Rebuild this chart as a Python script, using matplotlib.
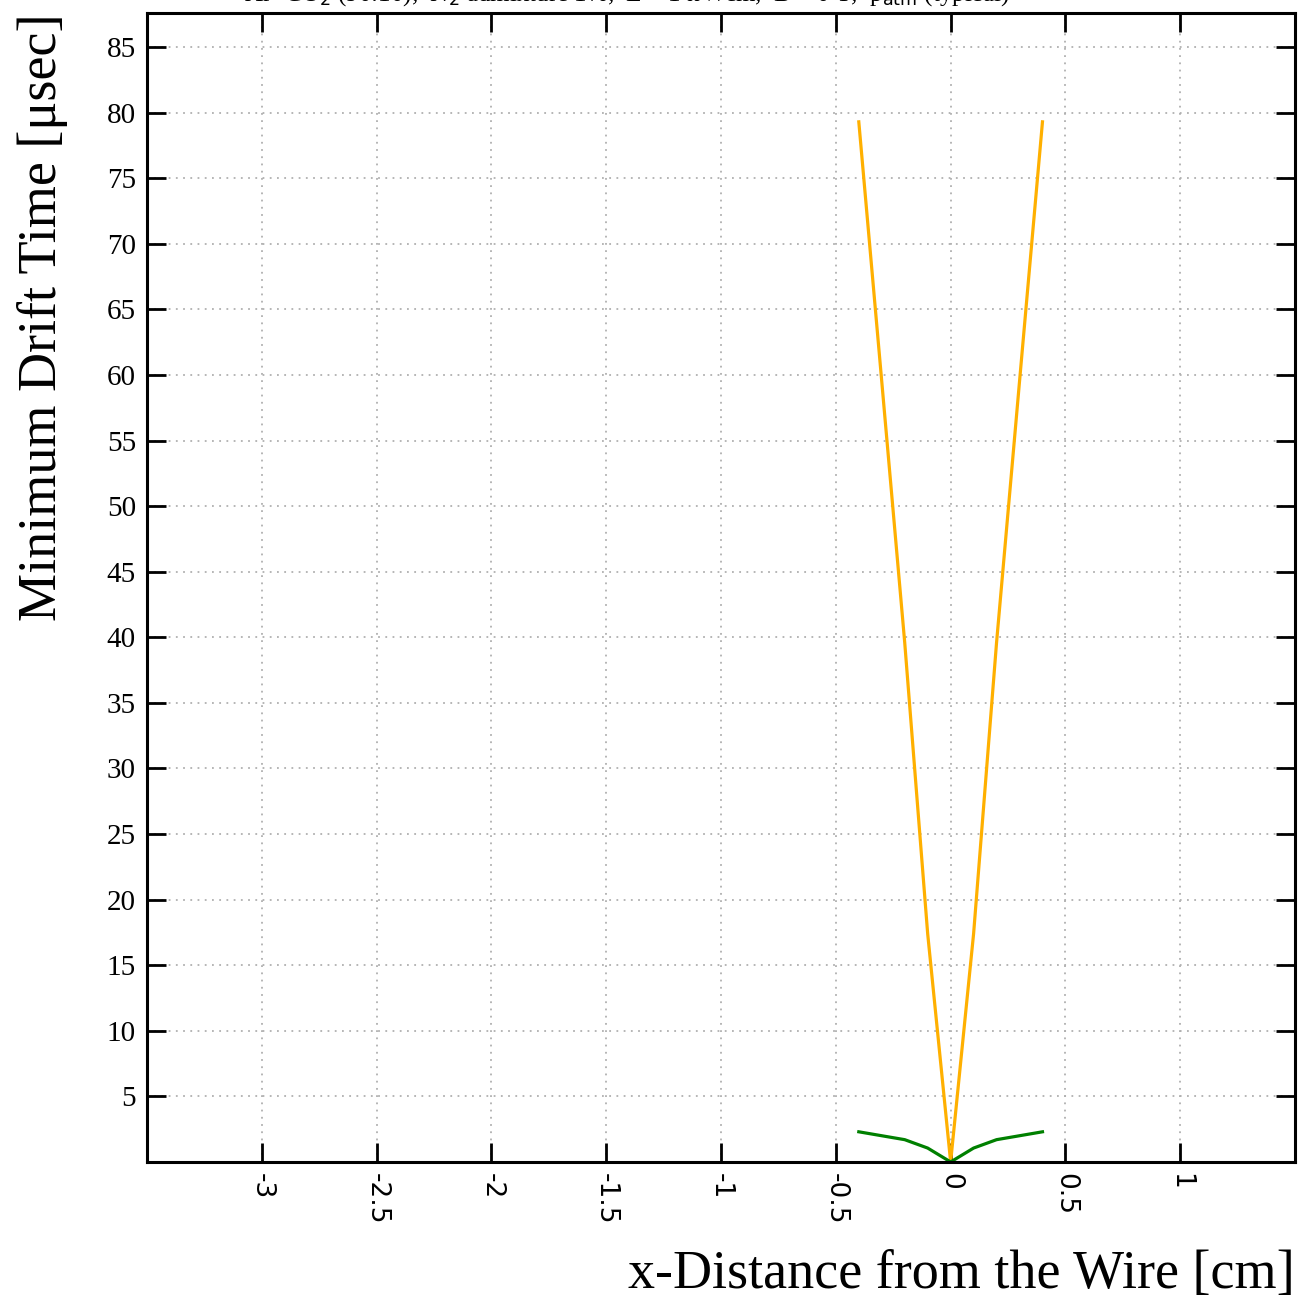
import matplotlib.pyplot as plt
import numpy as np

plt.rcParams['axes.unicode_minus'] = False

# x positions (cm) and minimum drift times (usec)
x_cm = [-0.4, -0.3, -0.2, -0.1, 0.0, 0.1, 0.2, 0.3, 0.4]
t_orange = [79.3, 59.5, 39.6, 17.4, 0.0, 17.4, 39.6, 59.5, 79.3]
t_green = [2.3, 2.0, 1.7, 1.06, 0.0, 1.06, 1.7, 2.0, 2.3]

xticks = [-3, -2.5, -2, -1.5, -1, -0.5, 0, 0.5, 1]
yticks = list(range(5, 90, 5))

fig = plt.figure(figsize=(13.06, 13.10), dpi=100)
ax = fig.add_axes([0.1126, 0.1130, 0.879, 0.8771])

ax.plot(x_cm, t_orange, color='#ffb000', lw=2.3)
ax.plot(x_cm, t_green, color='green', lw=2.3)

ax.set_xlim(-3.5, 1.5)
ax.set_ylim(0, 87.6)
ax.set_xticks(xticks)
ax.set_xticklabels([f'{v:g}' for v in xticks], rotation=-90,
                   family='DejaVu Sans', fontsize=19)
ax.set_yticks(yticks)
ax.set_yticklabels([str(v) for v in yticks], family='Liberation Serif',
                   fontsize=21)

ax.tick_params(direction='in', length=14, width=2, top=True, right=True, pad=8)
for s in ax.spines.values():
    s.set_linewidth(2.2)
ax.grid(True, linestyle=(0, (1, 3)), color='#b0b0b0', lw=1.3)

ax.set_xlabel('x-Distance from the Wire [cm]', family='Liberation Serif',
              fontsize=39, loc='right', labelpad=18)
ax.set_ylabel('Minimum Drift Time [\u03bcsec]', family='Liberation Serif',
              fontsize=39, loc='top', labelpad=28)

# title mostly cut off at the top of the canvas, as in the original
fig.text(0.48, 0.9995, 'Ar+CO$_2$ (90:10),  N$_2$ admixture 1%,  E = 1 kV/cm,  B = 0 T,  p$_{\\rm atm}$ (typical)',
         ha='center', va='baseline', family='Liberation Serif', fontsize=18)

fig.savefig('out.png', dpi=100)
